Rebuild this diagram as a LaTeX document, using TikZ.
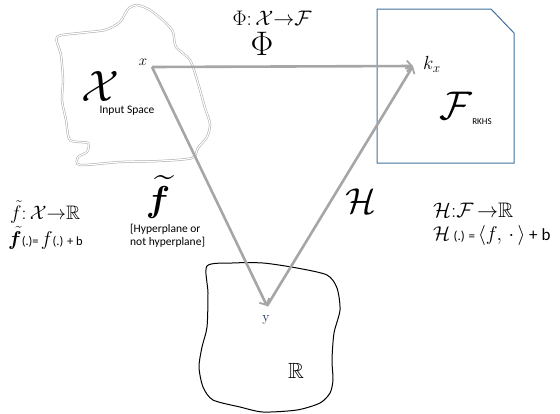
\RequirePackage{fix-cm}
\documentclass[tikz,border=0pt]{standalone}
\usepackage{amssymb}
\usepackage{bm}
\usepackage{fontspec}
\newfontfamily\calib{Carlito}
\usetikzlibrary{arrows.meta}
\definecolor{boxblue}{HTML}{41719C}
\definecolor{arrowgray}{HTML}{A6A6A6}
\definecolor{ynavy}{HTML}{1F2F5F}

\begin{document}
\begin{tikzpicture}[x=1pt, y=-1pt, >={Straight Barb[length=5pt,width=11pt,line width=1.8pt]}]
  \useasboundingbox (0,0) rectangle (560,413);
  \tikzset{
    map/.style={draw=arrowgray, line width=2.6pt, ->},
    note/.style={font=\calib\fontsize{11.5}{12.5}\selectfont, align=left, inner sep=0pt}
  }

  % Input space
  \draw[gray!70, double=white, double distance=1.2pt, line width=0.5pt]
    plot[smooth cycle, tension=0.45] coordinates {(57,37) (80,33) (105,30) (120,22) (128,9) (137,5) (150,10) (165,22) (173,32) (176,47) (190,60) (198,83) (205,108) (210,124) (207,137) (198,148) (192,158) (160,161) (120,162) (80,165) (78,157) (87,152) (88,143) (70,140) (66,120) (62,100) (63,80) (61,55)};
  \node (X) at (100,86) {\fontsize{44}{44}\selectfont$\mathcal{X}$};
  \node[note] (inp) at (127,111) {Input Space};
  \coordinate (x) at (152,67);
  \node (xl) at (143,62) {\fontsize{15}{15}\selectfont$x$};

  % Feature space
  \draw[boxblue, line width=1pt] (377,9) -- (491,9) -- (514,33) -- (514,163) -- (377,163) -- cycle;
  \coordinate (kx) at (413,66);
  \node (kxl) at (432,64) {\fontsize{19}{19}\selectfont$k_x$};
  \node (F) at (456,106) {\fontsize{40}{40}\selectfont$\mathcal{F}$};
  \node[note, font=\calib\fontsize{9}{10}\selectfont] (rkhs) at (482,122) {RKHS};

  % Output space
  \draw[black, line width=1pt]
    plot[smooth cycle, tension=0.45] coordinates {(207,266) (232,263) (263,263) (297,268) (327,275) (337,288) (340,310) (334,333) (332,360) (333,380) (330,393) (320,403) (297,410) (263,412) (240,407) (213,400) (203,387) (199,367) (202,347) (207,327) (208,293)};
  \coordinate (y) at (267,306);
  \node[text=ynavy] (yl) at (266,320) {\fontsize{14}{14}\selectfont y};
  \node (R) at (296,371) {\fontsize{22}{22}\selectfont$\mathbb{R}$};

  % Maps
  \draw[map] (x) -- (kx);
  \draw[map] (x) -- (y);
  \draw[map] (y) -- (kx);

  % Labels
  \node (phimap) at (272,18) {\fontsize{21}{21}\selectfont$\Phi{:}\,\mathcal{X}{\rightarrow}\mathcal{F}$};
  \node (phi) at (262,44) {\fontsize{34}{34}\selectfont$\Phi$};
  \node[inner sep=0pt] (ft) at (158,197) {\fontsize{36}{36}\selectfont$\widetilde{\bm{f}}$};
  \node[note, anchor=north west] (hyp) at (130,224) {[Hyperplane or\\not hyperplane]};
  \node (H) at (361,201) {\fontsize{36}{36}\selectfont$\mathcal{H}$};
  \node[anchor=west, inner sep=0pt] (fmap) at (10,212) {\fontsize{19.5}{19.5}\selectfont$\tilde{f}{:}\,\mathcal{X}{\rightarrow}\mathbb{R}$};
  \node[anchor=west, inner sep=0pt] (fdef) at (8,238) {\fontsize{20}{20}\selectfont$\tilde{\bm{f}}$\calib\fontsize{12.5}{13}\selectfont(.)=\,\fontsize{20}{20}\selectfont$f$\calib\fontsize{12.5}{13}\selectfont(.) + b};
  \node[anchor=west, inner sep=0pt] (hmap) at (433,210) {\fontsize{21}{21}\selectfont$\mathcal{H}{:}\mathcal{F}\,{\rightarrow}\mathbb{R}$};
  \node[anchor=west, inner sep=0pt] (hdef) at (433,235) {\fontsize{20}{20}\selectfont$\mathcal{H}$\,\calib\fontsize{13}{14}\selectfont(.) = \fontsize{20}{20}\selectfont$\langle f,\,\cdot\,\rangle$\calib\fontsize{17}{17}\selectfont\ + b};
\end{tikzpicture}
\end{document}
